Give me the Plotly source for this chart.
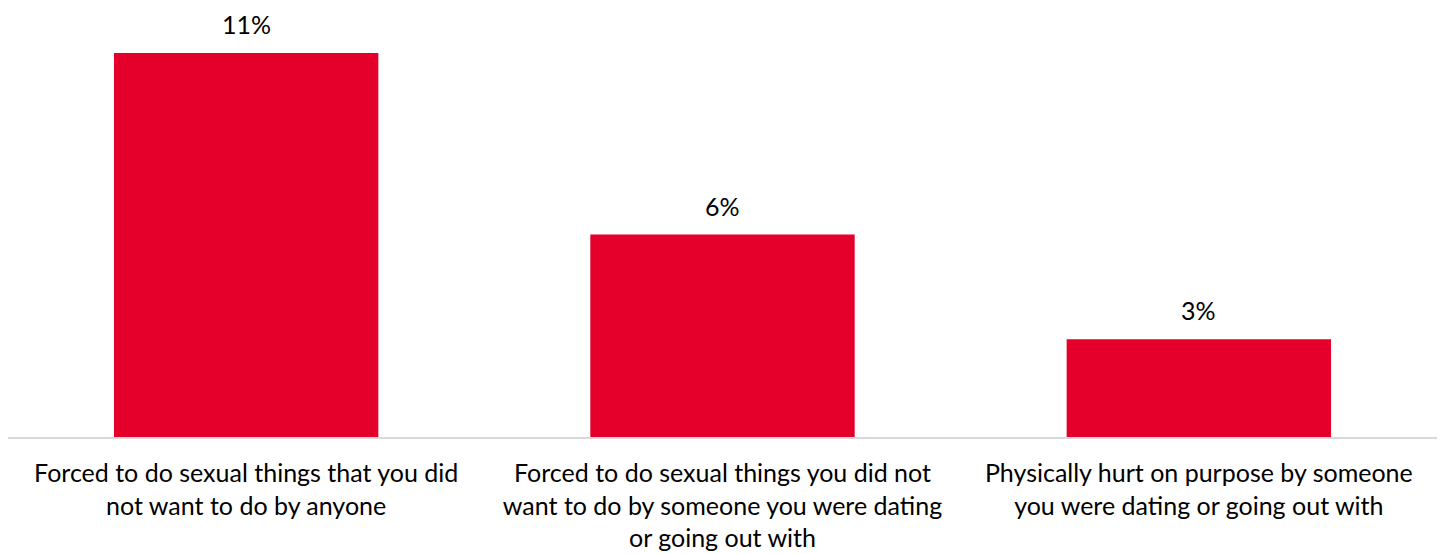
import plotly.graph_objects as go

categories = [
    "Forced to do sexual things that you did<br>not want to do by anyone",
    "Forced to do sexual things you did not<br>want to do by someone you were dating<br>or going out with",
    "Physically hurt on purpose by someone<br>you were dating or going out with",
]
values = [11.0, 5.8, 2.8]
value_labels = ["11%", "6%", "3%"]

BAR_COLOR = "#E4002B"
FONT = "Lato"
FSIZE = 25

fig = go.Figure(
    go.Bar(
        x=categories,
        y=values,
        marker=dict(color=BAR_COLOR, line=dict(width=0)),
        width=0.555,
        hoverinfo="skip",
    )
)

for c, v, t in zip(categories, values, value_labels):
    fig.add_annotation(
        x=c, y=v, text=t, showarrow=False, yanchor="bottom", yshift=12,
        font=dict(family=FONT, size=FSIZE, color="#000000"),
    )

fig.update_layout(
    width=1445, height=554,
    margin=dict(l=0, r=16, t=0, b=125),
    paper_bgcolor="white", plot_bgcolor="white",
    showlegend=False,
    font=dict(family=FONT, size=FSIZE, color="#000000"),
    xaxis=dict(
        showline=True, linecolor="#D9D9D9", linewidth=2,
        showgrid=False, ticks="", ticklabelstandoff=13,
        tickfont=dict(family=FONT, size=FSIZE, color="#000000"),
    ),
    yaxis=dict(
        range=[0, 12.29], visible=False, showgrid=False, zeroline=False,
    ),
)

fig.write_html("out.html")
